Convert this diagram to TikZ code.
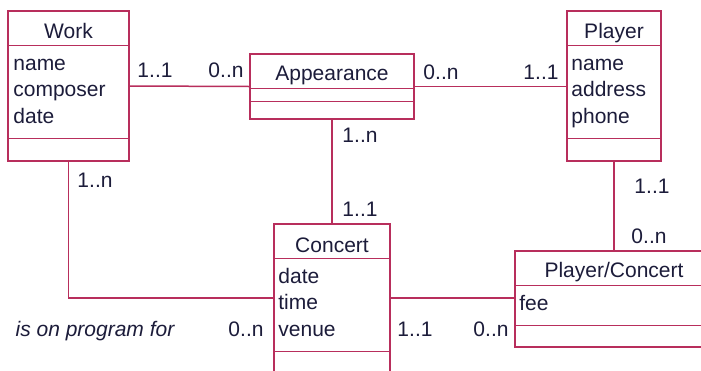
\documentclass[tikz,border=0pt]{standalone}
\usepackage{fontspec}
\setmainfont{Liberation Sans}
\usetikzlibrary{calc}
\definecolor{erInk}{HTML}{1C1C3A}
\definecolor{erLine}{HTML}{B82E5C}
\tikzset{
  er/base/.style={font=\fontsize{10.5}{13.25}\selectfont, text=erInk, inner sep=0pt},
  er/box/.style={draw=erLine, line width=0.75pt, inner sep=0pt},
  er/line/.style={draw=erLine, line width=0.75pt},
  er/title/.style={er/base, anchor=base},
  % attribute lists sit on the baseline of their last line
  er/attr/.style={er/base, anchor=base west, align=left},
  er/mult/.style={er/base, anchor=base},
  er/note/.style={er/base, anchor=base, font=\fontsize{10.5}{13.25}\selectfont\itshape},
}

\begin{document}
\begin{tikzpicture}[x=0.5pt, y=-0.5pt]
\useasboundingbox (0,0) rectangle (701,370);
\clip (0,0) rectangle (701,370);
\fill[white] (0,0) rectangle (701,370);

% class boxes
\node[er/box, minimum width=60.5pt, minimum height=75pt] (work) at (68.5,86) {};
\node[er/box, minimum width=82pt, minimum height=32.5pt] (app) at (332,86.5) {};
\node[er/box, minimum width=47pt, minimum height=75pt] (player) at (614,86) {};
\node[er/box, minimum width=58pt, minimum height=74pt] (concert) at (332,298) {};
\node[er/box, minimum width=99pt, minimum height=48pt] (pc) at (614,299) {};

% compartments
\draw[er/line] ($(work.north west)+(0,35)$) -- ($(work.north east)+(0,35)$);
\draw[er/line] ($(work.north west)+(0,128)$) -- ($(work.north east)+(0,128)$);
\draw[er/line] ($(app.north west)+(0,35)$) -- ($(app.north east)+(0,35)$);
\draw[er/line] ($(app.north west)+(0,48)$) -- ($(app.north east)+(0,48)$);
\draw[er/line] ($(player.north west)+(0,35)$) -- ($(player.north east)+(0,35)$);
\draw[er/line] ($(player.north west)+(0,128)$) -- ($(player.north east)+(0,128)$);
\draw[er/line] ($(concert.north west)+(0,35)$) -- ($(concert.north east)+(0,35)$);
\draw[er/line] ($(concert.north west)+(0,128)$) -- ($(concert.north east)+(0,128)$);
\draw[er/line] ($(pc.north west)+(0,35)$) -- ($(pc.north east)+(0,35)$);
\draw[er/line] ($(pc.north west)+(0,75)$) -- ($(pc.north east)+(0,75)$);

% titles and attributes
\node[er/title] (work-title) at (68.5,38) {Work};
\node[er/attr] (work-attr) at (13,123) {name\\composer\\date};
\node[er/title] (app-title) at (332,80) {Appearance};
\node[er/title] (player-title) at (614,38) {Player};
\node[er/attr] (player-attr) at (571,123) {name\\address\\phone};
\node[er/title] (concert-title) at (332,252) {Concert};
\node[er/attr] (concert-attr) at (278,336) {date\\time\\venue};
\node[er/title] (pc-title) at (614,277) {Player/Concert};
\node[er/attr] (pc-attr) at (519,310) {fee};

% associations
\draw[er/line] (work.east) -- (app.west);
\draw[er/line] (app.east) -- (app.east -| player.west);
\draw[er/line] (app.south) -- (concert.north);
\draw[er/line] (work.south) |- (concert.west);
\draw[er/line] (concert.east) -- (concert.east -| pc.west);
\draw[er/line] (player.south) -- (player.south |- pc.north);

% multiplicities
\node[er/mult] (m-work-app) at (155,77) {1..1};
\node[er/mult] (m-app-work) at (226,77) {0..n};
\node[er/mult] (m-app-player) at (441,79) {0..n};
\node[er/mult] (m-player-app) at (541,79) {1..1};
\node[er/mult] (m-app-concert) at (360,142) {1..n};
\node[er/mult] (m-concert-app) at (360,216) {1..1};
\node[er/mult] (m-work-concert) at (95,187) {1..n};
\node[er/mult] (m-concert-work) at (246,336) {0..n};
\node[er/mult] (m-player-pc) at (652,193) {1..1};
\node[er/mult] (m-pc-player) at (649,243) {0..n};
\node[er/mult] (m-concert-pc) at (415,336) {1..1};
\node[er/mult] (m-pc-concert) at (491,336) {0..n};
\node[er/note] (program) at (95,336) {is on program for};
\end{tikzpicture}
\end{document}
